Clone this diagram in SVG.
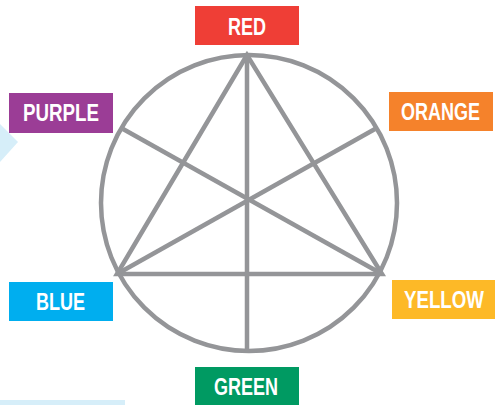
<svg xmlns="http://www.w3.org/2000/svg" width="495" height="405" viewBox="0 0 495 405">
<style>
.ln{stroke:#949598;stroke-width:4.5;fill:none;stroke-linecap:butt;stroke-linejoin:miter}
.lbl{font-family:"Liberation Sans",Arial,sans-serif;font-weight:bold;font-size:23px;fill:#ffffff;text-anchor:middle}
</style>
<rect width="495" height="405" fill="#ffffff"/>
<polygon points="0,124 18,142 0,162" fill="#d6eef9"/>
<rect x="0" y="400" width="125" height="5" fill="#d6eef9"/>
<g id="connectors">
<circle class="ln" cx="249" cy="203" r="148"/>
<polygon class="ln" points="247,55 117,274 382,274"/>
<line class="ln" x1="247" y1="55" x2="247" y2="352"/>
<line class="ln" x1="117" y1="274" x2="375" y2="129"/>
<line class="ln" x1="382" y1="274" x2="123" y2="129"/>
</g>
<g id="red"><rect x="195" y="6" width="104" height="39" fill="#ef3e36"/><text class="lbl" x="247" y="35" textLength="38" lengthAdjust="spacingAndGlyphs">RED</text></g>
<g id="orange"><rect x="389" y="92" width="104" height="39" fill="#f5822b"/><text class="lbl" x="440.5" y="120" textLength="79" lengthAdjust="spacingAndGlyphs">ORANGE</text></g>
<g id="purple"><rect x="9" y="93" width="104" height="40" fill="#9b3d96"/><text class="lbl" x="61" y="121" textLength="76" lengthAdjust="spacingAndGlyphs">PURPLE</text></g>
<g id="blue"><rect x="9" y="282" width="104" height="39" fill="#00aeef"/><text class="lbl" x="60.5" y="310" textLength="49" lengthAdjust="spacingAndGlyphs">BLUE</text></g>
<g id="yellow"><rect x="392" y="280" width="103" height="39" fill="#fdb927"/><text class="lbl" x="444" y="308" textLength="80" lengthAdjust="spacingAndGlyphs">YELLOW</text></g>
<g id="green"><rect x="195" y="367" width="104" height="38" fill="#009a62"/><text class="lbl" x="246" y="395" textLength="64" lengthAdjust="spacingAndGlyphs">GREEN</text></g>
</svg>
